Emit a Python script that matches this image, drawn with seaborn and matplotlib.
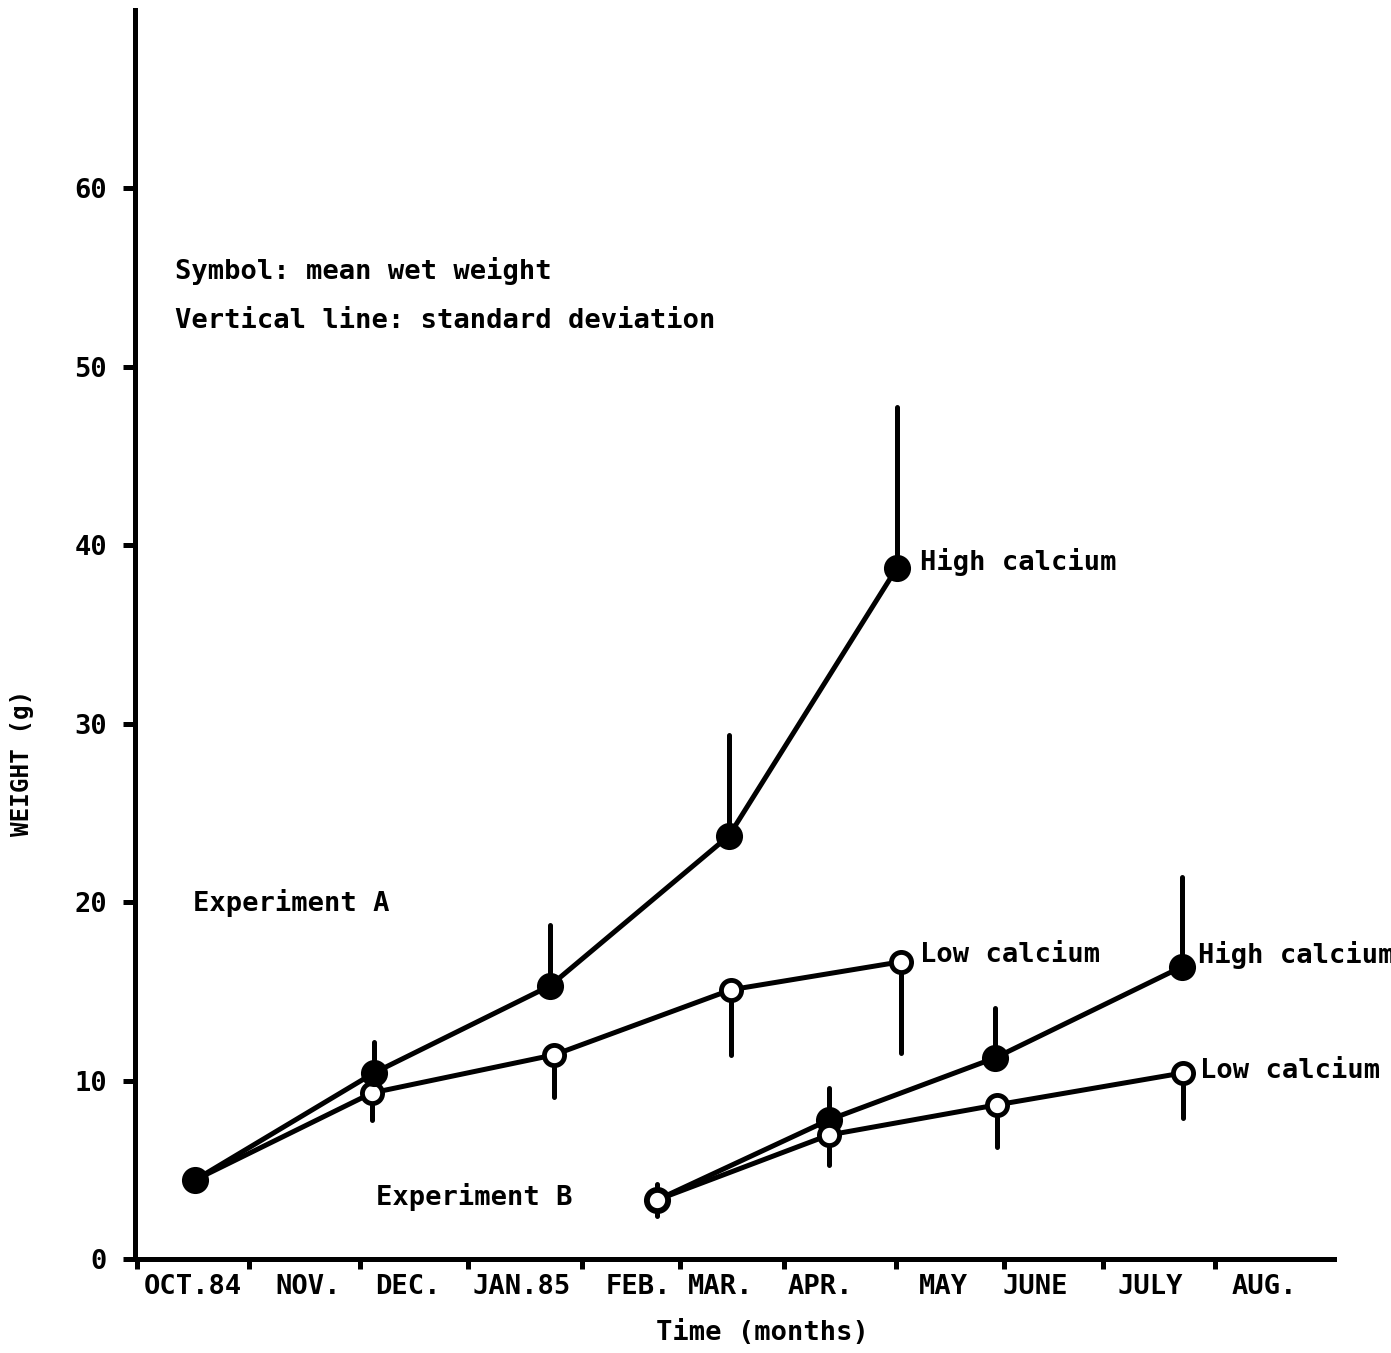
import numpy as np
import pandas as pd
import matplotlib
matplotlib.use("Agg")
import matplotlib.pyplot as plt
import seaborn as sns

# ---------------- data ----------------
month_edges = [0.02, 1.06, 2.09, 3.09, 4.15, 5.06, 6.02, 7.06, 8.06, 8.98, 10.02]
month_label_pos = [0.54, 1.61, 2.53, 3.59, 4.67, 5.43, 6.36, 7.50, 8.35, 9.42, 10.48]
month_labels = ["OCT.84", "NOV.", "DEC.", "JAN.85", "FEB.", "MAR.", "APR.",
                "MAY", "JUNE", "JULY", "AUG."]
y_ticks = [0, 10, 20, 30, 40, 50, 60]

a_high_x = [0.557, 2.217, 3.850, 5.510, 7.069]
a_high_y = [4.43, 10.43, 15.31, 23.72, 38.75]
a_high_sd_end = [4.43, 12.17, 18.73, 29.39, 47.73]

a_low_x = [0.557, 2.199, 3.887, 5.529, 7.106]
a_low_y = [4.43, 9.31, 11.44, 15.09, 16.66]
a_low_sd_end = [4.43, 7.80, 9.09, 11.44, 11.55]

b_high_x = [4.842, 6.438, 7.978, 9.712]
b_high_y = [3.31, 7.80, 11.27, 16.38]
b_high_sd_end = [4.20, 9.59, 14.08, 21.42]

b_low_x = [4.842, 6.438, 7.996, 9.722]
b_low_y = [3.31, 6.95, 8.64, 10.43]
b_low_sd_end = [2.40, 5.27, 6.28, 7.91]

series = [
    ("A", "Low calcium", a_low_x, a_low_y, a_low_sd_end),
    ("A", "High calcium", a_high_x, a_high_y, a_high_sd_end),
    ("B", "High calcium", b_high_x, b_high_y, b_high_sd_end),
    ("B", "Low calcium", b_low_x, b_low_y, b_low_sd_end),
]
rows = []
for exp, ca, xs, ys, es in series:
    for x, y, e in zip(xs, ys, es):
        rows.append(dict(exp=exp, calcium=ca, month=x, weight=y, sd_end=e))
df = pd.DataFrame(rows)

# ---------------- style ----------------
sns.set_style("white")
plt.rcParams["font.family"] = ["DejaVu Sans Mono", "DejaVu Sans"]
plt.rcParams["font.weight"] = "bold"
plt.rcParams["text.color"] = "black"
plt.rcParams["axes.labelcolor"] = "black"

W, H = 1391, 1353
fig = plt.figure(figsize=(W / 100, H / 100), dpi=100)
ax_w = (1334 - 135)
ax_h = (1259 - 10)
ax = fig.add_axes([135 / W, (H - 1259) / H, ax_w / W, ax_h / H])

LW = 3.6
order = 0
for exp, ca, *_ in series:
    sub = df[(df.exp == exp) & (df.calcium == ca)]
    filled = ca.startswith("High")
    ax.vlines(sub.month, sub.weight, sub.sd_end, colors="black", lw=LW,
              capstyle="round", zorder=2 + order)
    sns.lineplot(data=sub, x="month", y="weight", sort=False, ax=ax,
                 color="black", lw=LW, marker="o",
                 markersize=16 if filled else 14.5,
                 markerfacecolor="black" if filled else "white",
                 markeredgecolor="black", markeredgewidth=3.5,
                 legend=False, zorder=3 + order, errorbar=None)
    order += 2

# ---------------- axes ----------------
ax.set_xlim(0, 1199 / 107.8)
ax.set_ylim(0, 70)
for s in ["top", "right"]:
    ax.spines[s].set_visible(False)
for s in ["left", "bottom"]:
    ax.spines[s].set_linewidth(LW)
    ax.spines[s].set_color("black")

ax.set_yticks(y_ticks)
ax.set_yticklabels([str(v) for v in y_ticks])
ax.tick_params(axis="y", direction="out", length=9, width=LW, pad=11,
               labelsize=19.5, colors="black", left=True)

ax.set_xticks(month_edges)
ax.set_xticklabels([""] * len(month_edges))
ax.set_xticks(month_label_pos, minor=True)
ax.set_xticklabels(month_labels, minor=True)
ax.tick_params(axis="x", which="major", direction="out", length=7, width=LW,
               colors="black", bottom=True)
ax.tick_params(axis="x", which="minor", length=0, pad=11, labelsize=19.5,
               colors="black", bottom=True)
for t in ax.get_xticklabels(minor=True) + ax.get_yticklabels():
    t.set_fontweight("bold")

ax.set_xlabel("Time (months)", fontsize=19.5, fontweight="bold",
              color="black", va="center", ha="center")
ax.xaxis.set_label_coords((762 - 135) / ax_w, -(1333 - 1259) / ax_h)
ax.set_ylabel("WEIGHT (g)", fontsize=17.5, fontweight="bold",
              color="black", va="center", ha="center")
ax.yaxis.set_label_coords(-(135 - 22) / ax_w, (1259 - 763) / ax_h)

# ---------------- annotations ----------------
txt = dict(fontsize=19.5, fontweight="bold", color="black", va="center",
           ha="left", clip_on=False)
ax.text(0.371, 55.36, "Symbol: mean wet weight", **txt)
ax.text(0.371, 52.55, "Vertical line: standard deviation", **txt)
ax.text(0.538, 19.97, "Experiment A", **txt)
ax.text(2.236, 3.48, "Experiment B", **txt)
ax.text(7.282, 39.04, "High calcium", **txt)
ax.text(7.282, 17.05, "Low calcium", **txt)
ax.text(9.861, 17.05, "High calcium", **txt)
ax.text(9.879, 10.54, "Low calcium", **txt)

fig.savefig("out.png", dpi=100)
